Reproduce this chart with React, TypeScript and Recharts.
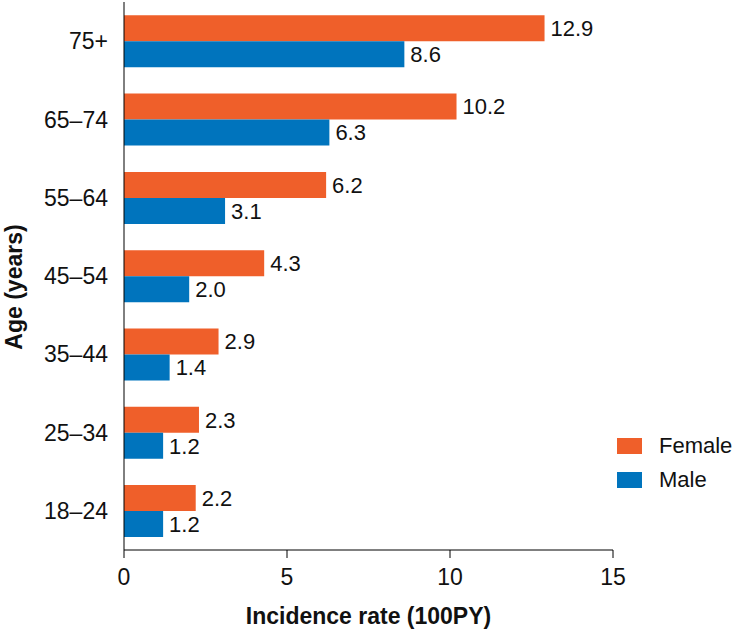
import React from "react";
import { BarChart, Bar, XAxis, YAxis, LabelList } from "recharts";

const ageGroups = ["75+", "65–74", "55–64", "45–54", "35–44", "25–34", "18–24"];
const femaleRates = [12.9, 10.2, 6.2, 4.3, 2.9, 2.3, 2.2];
const maleRates = [8.6, 6.3, 3.1, 2.0, 1.4, 1.2, 1.2];
const xTicks = [0, 5, 10, 15];

const FEMALE = "#EF5F2A";
const MALE = "#0074BD";
const FONT = "'Liberation Sans', Arial, Helvetica, sans-serif";

const data = ageGroups.map((age, i) => ({
  age,
  female: femaleRates[i],
  male: maleRates[i],
}));

const fmt = (v: any) => Number(v).toFixed(1);

const legendItems = [
  { name: "Female", color: FEMALE },
  { name: "Male", color: MALE },
];

export default function App() {
  return (
    <div style={{ position: "absolute", left: 0, top: 0, width: 735, height: 632, background: "#fff" }}>
      <BarChart
        width={735}
        height={632}
        data={data}
        layout="vertical"
        margin={{ top: 2, right: 122, bottom: 0, left: 0 }}
        barCategoryGap="17%"
        barGap={0}
      >
        <XAxis
          type="number"
          domain={[0, 15]}
          ticks={xTicks}
          height={82}
          tickSize={8}
          tickMargin={11}
          stroke="#000"
          tick={{ fill: "#111", fontSize: 23, fontFamily: FONT }}
          label={{
            value: "Incidence rate (100PY)",
            position: "insideBottom",
            offset: 8,
            style: { fill: "#111", fontSize: 23, fontWeight: "bold", fontFamily: FONT },
          }}
        />
        <YAxis
          type="category"
          dataKey="age"
          width={124}
          tickSize={0}
          tickMargin={16}
          stroke="#000"
          tick={{ fill: "#111", fontSize: 23, fontFamily: FONT }}
          label={{
            value: "Age (years)",
            angle: -90,
            position: "insideLeft",
            offset: 14,
            dy: 11,
            style: { fill: "#111", fontSize: 23, fontWeight: "bold", fontFamily: FONT, textAnchor: "middle" },
          }}
        />
        <Bar dataKey="female" name="Female" fill={FEMALE} isAnimationActive={false}>
          <LabelList
            dataKey="female"
            position="right"
            offset={6}
            formatter={fmt}
            style={{ fill: "#111", fontSize: 22, fontFamily: FONT }}
          />
        </Bar>
        <Bar dataKey="male" name="Male" fill={MALE} isAnimationActive={false}>
          <LabelList
            dataKey="male"
            position="right"
            offset={6}
            formatter={fmt}
            style={{ fill: "#111", fontSize: 22, fontFamily: FONT }}
          />
        </Bar>
      </BarChart>
      <div style={{ position: "absolute", left: 617, top: 429, fontFamily: FONT, fontSize: 22, color: "#111" }}>
        {legendItems.map((it) => (
          <div key={it.name} style={{ display: "flex", alignItems: "center", height: 34 }}>
            <span style={{ width: 25, height: 16, background: it.color, display: "inline-block", marginRight: 17 }} />
            <span>{it.name}</span>
          </div>
        ))}
      </div>
    </div>
  );
}
